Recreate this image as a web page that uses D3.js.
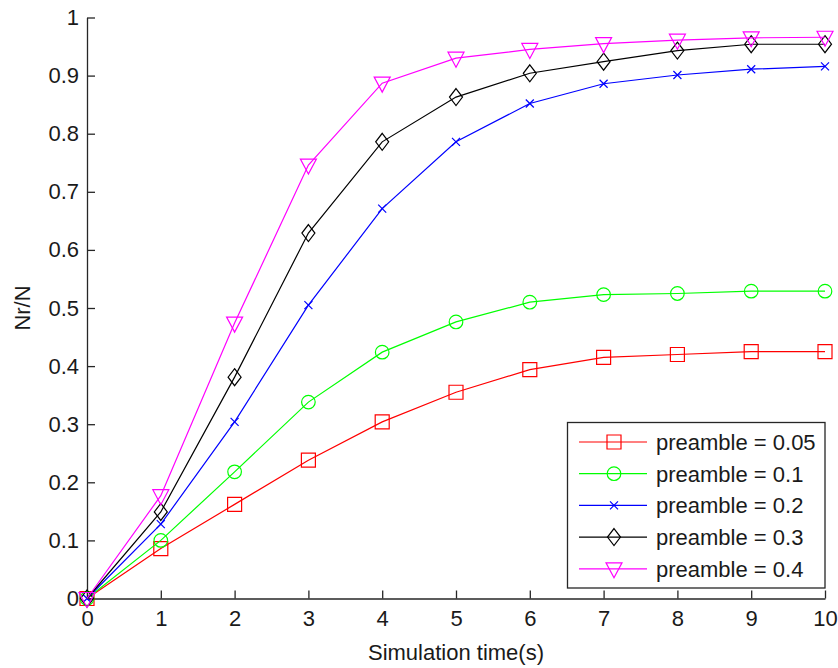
<!DOCTYPE html>
<html>
<head>
<meta charset="utf-8">
<script src="https://cdn.jsdelivr.net/npm/d3@7"></script>
<style>
  body { margin: 0; background: #fff; }
  svg { display: block; font-family: "Liberation Sans", Arial, sans-serif; }
</style>
</head>
<body>
<svg id="chart" width="838" height="668"></svg>
<script>
// simulation time (s)
const times = [0, 1, 2, 3, 4, 5, 6, 7, 8, 9, 10];

// Nr/N for each preamble value
const pre005 = [0, 0.086, 0.162, 0.238, 0.304, 0.355, 0.394, 0.415, 0.420, 0.425, 0.425];
const pre01  = [0, 0.100, 0.218, 0.338, 0.424, 0.476, 0.510, 0.523, 0.525, 0.529, 0.529];
const pre02  = [0, 0.128, 0.304, 0.505, 0.671, 0.786, 0.852, 0.886, 0.901, 0.911, 0.916];
const pre03  = [0, 0.149, 0.381, 0.629, 0.786, 0.863, 0.904, 0.924, 0.943, 0.954, 0.954];
const pre04  = [0, 0.177, 0.474, 0.746, 0.887, 0.930, 0.945, 0.955, 0.961, 0.965, 0.966];

const seriesNames = ["preamble = 0.05", "preamble = 0.1", "preamble = 0.2", "preamble = 0.3", "preamble = 0.4"];
const seriesValues = [pre005, pre01, pre02, pre03, pre04];
const seriesColors = ["#ff0000", "#00ff00", "#0000ff", "#000000", "#ff00ff"];
const seriesMarkers = ["square", "circle", "x", "diamond", "triangle"];

const xTicks = [0, 1, 2, 3, 4, 5, 6, 7, 8, 9, 10];
const yTicks = [0, 0.1, 0.2, 0.3, 0.4, 0.5, 0.6, 0.7, 0.8, 0.9, 1];

const svg = d3.select("#chart");
const plot = { left: 87, right: 825, top: 17.5, bottom: 598.5 };

const x = d3.scaleLinear().domain([0, 10]).range([plot.left, plot.right]);
const y = d3.scaleLinear().domain([0, 1]).range([plot.bottom, plot.top]);

const axisColor = "#262626";
const fontSize = 22;

// marker shapes
function markerPath(type) {
  switch (type) {
    case "square": return d3.symbol(d3.symbolSquare, 14 * 14)();
    case "circle": return d3.symbol(d3.symbolCircle, Math.PI * 6.8 * 6.8)();
    case "x": return "M-4,-4L4,4M-4,4L4,-4";
    case "diamond": return "M0,-8.5L6.5,0L0,8.5L-6.5,0Z";
    case "triangle": return "M-8,-6L8,-6L0,9Z";
  }
}

// axes
const yAxis = svg.append("g")
  .attr("transform", "translate(" + plot.left + ",0)")
  .call(d3.axisLeft(y).tickValues(yTicks).tickSizeInner(-8).tickSizeOuter(0).tickPadding(8)
    .tickFormat(d => d3.format("")(+d.toFixed(1))));
const xAxis = svg.append("g")
  .attr("transform", "translate(0," + plot.bottom + ")")
  .call(d3.axisBottom(x).tickValues(xTicks).tickSizeInner(-8).tickSizeOuter(0).tickPadding(12));

[xAxis, yAxis].forEach(ax => {
  ax.select(".domain").attr("stroke", axisColor).attr("stroke-width", 1.3);
  ax.selectAll(".tick line").attr("stroke", axisColor).attr("stroke-width", 1.3);
  ax.selectAll(".tick text")
    .attr("fill", "#1a1a1a")
    .style("font-size", fontSize + "px")
    .style("font-family", "'Liberation Sans', Arial, sans-serif");
});

// axis titles
svg.append("text")
  .attr("x", (plot.left + plot.right) / 2)
  .attr("y", 660)
  .attr("text-anchor", "middle")
  .style("font-size", fontSize + "px")
  .attr("fill", "#1a1a1a")
  .text("Simulation time(s)");

svg.append("text")
  .attr("transform", "translate(30," + (plot.top + plot.bottom) / 2 + ") rotate(-90)")
  .attr("text-anchor", "middle")
  .style("font-size", fontSize + "px")
  .attr("fill", "#1a1a1a")
  .text("Nr/N");

// lines + markers
const line = d3.line()
  .x((d, i) => x(times[i]))
  .y(d => y(d));

seriesValues.forEach((vals, s) => {
  const g = svg.append("g");
  g.append("path")
    .datum(vals)
    .attr("d", line)
    .attr("fill", "none")
    .attr("stroke", seriesColors[s])
    .attr("stroke-width", 1.2);
  g.selectAll("path.marker")
    .data(vals)
    .enter()
    .append("path")
    .attr("class", "marker")
    .attr("transform", (d, i) => "translate(" + x(times[i]) + "," + y(d) + ")")
    .attr("d", markerPath(seriesMarkers[s]))
    .attr("fill", "none")
    .attr("stroke", seriesColors[s])
    .attr("stroke-width", 1.2);
});

// legend
const legend = svg.append("g");
legend.append("rect")
  .attr("x", 567.5).attr("y", 422.5)
  .attr("width", 257.5).attr("height", 165.5)
  .attr("fill", "#fff")
  .attr("stroke", axisColor)
  .attr("stroke-width", 1.3);

seriesNames.forEach((name, s) => {
  const cy = 442 + s * 31.7;
  legend.append("line")
    .attr("x1", 579).attr("x2", 647)
    .attr("y1", cy).attr("y2", cy)
    .attr("stroke", seriesColors[s])
    .attr("stroke-width", 1.2);
  legend.append("path")
    .attr("transform", "translate(614," + cy + ")")
    .attr("d", markerPath(seriesMarkers[s]))
    .attr("fill", "none")
    .attr("stroke", seriesColors[s])
    .attr("stroke-width", 1.2);
  legend.append("text")
    .attr("x", 656)
    .attr("y", cy)
    .attr("dy", "0.36em")
    .style("font-size", fontSize + "px")
    .attr("fill", "#1a1a1a")
    .text(name);
});
</script>
</body>
</html>
